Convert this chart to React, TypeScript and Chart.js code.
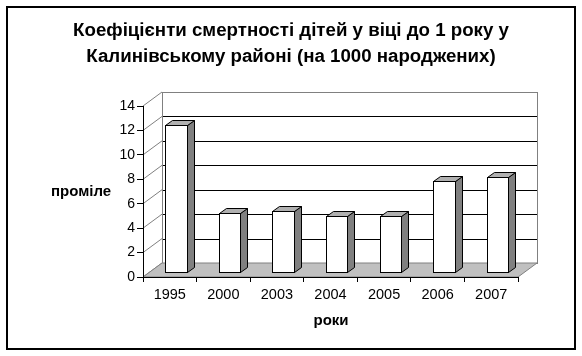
import React, { useEffect, useRef } from "react";
import { Chart, registerables } from "chart.js";

Chart.register(...registerables);

const titleLines = [
  "Коефіцієнти смертності дітей у віці до 1 року у",
  "Калинівському районі (на 1000 народжених)",
];
const yAxisTitle = "проміле";
const xAxisTitle = "роки";
const years = ["1995", "2000", "2003", "2004", "2005", "2006", "2007"];
const rates = [12.1, 4.9, 5.0, 4.6, 4.6, 7.5, 7.8];
const yMin = 0;
const yMax = 14;
const yStep = 2;

const FONT = "'Liberation Sans', Arial, sans-serif";
const DX = 19;
const DY = -14;
const FA = 0.33;
const FB = 0.7;

const px = (v: number) => Math.round(v) + 0.5;

const threeD = {
  id: "threeD",
  beforeDraw(chart: any) {
    const { ctx, chartArea } = chart;
    const { left, right, top, bottom } = chartArea;
    const y = chart.scales.y;
    ctx.save();
    ctx.fillStyle = "#ffffff";
    ctx.fillRect(0, 0, chart.width, chart.height);
    ctx.fillStyle = "#ffffff";
    ctx.fillRect(left + DX, top + DY, right - left, bottom - top);
    ctx.lineWidth = 1;
    ctx.strokeStyle = "#000000";
    for (let v = yMin + yStep; v < yMax; v += yStep) {
      const yy = px(y.getPixelForValue(v) + DY);
      ctx.beginPath();
      ctx.moveTo(px(left + DX), yy);
      ctx.lineTo(px(right + DX), yy);
      ctx.stroke();
    }
    ctx.strokeStyle = "#808080";
    ctx.strokeRect(px(left + DX), px(top + DY), right - left, bottom - top);
    for (let v = yMin; v <= yMax; v += yStep) {
      const yy = y.getPixelForValue(v);
      ctx.beginPath();
      ctx.moveTo(left, yy);
      ctx.lineTo(left + DX, yy + DY);
      ctx.stroke();
    }
    ctx.beginPath();
    ctx.moveTo(left, bottom);
    ctx.lineTo(right, bottom);
    ctx.lineTo(right + DX, bottom + DY);
    ctx.lineTo(left + DX, bottom + DY);
    ctx.closePath();
    ctx.fillStyle = "#c0c0c0";
    ctx.fill();
    ctx.strokeStyle = "#808080";
    ctx.stroke();
    ctx.restore();
  },
  afterDatasetsDraw(chart: any) {
    const { ctx } = chart;
    const meta = chart.getDatasetMeta(0);
    ctx.save();
    ctx.lineWidth = 1;
    ctx.strokeStyle = "#000000";
    ctx.lineJoin = "miter";
    meta.data.forEach((bar: any) => {
      const { x, y, base, width } = bar.getProps(["x", "y", "base", "width"], true);
      const fx = DX * FA, fy = DY * FA;
      const bx = DX * FB, by = DY * FB;
      const l = Math.round(x - width / 2 + fx) + 0.5;
      const r = Math.round(x + width / 2 + fx) + 0.5;
      const t = Math.round(y + fy) + 0.5;
      const b = Math.round(base + fy) + 0.5;
      const ox = Math.round(bx - fx);
      const oy = Math.round(by - fy);
      ctx.beginPath();
      ctx.moveTo(r, t);
      ctx.lineTo(r + ox, t + oy);
      ctx.lineTo(r + ox, b + oy);
      ctx.lineTo(r, b);
      ctx.closePath();
      ctx.fillStyle = "#808080";
      ctx.fill();
      ctx.stroke();
      ctx.beginPath();
      ctx.moveTo(l, t);
      ctx.lineTo(l + ox, t + oy);
      ctx.lineTo(r + ox, t + oy);
      ctx.lineTo(r, t);
      ctx.closePath();
      ctx.fillStyle = "#b0b0b0";
      ctx.fill();
      ctx.stroke();
      ctx.fillStyle = "#ffffff";
      ctx.fillRect(l, t, r - l, b - t);
      ctx.strokeRect(l, t, r - l, b - t);
    });
    ctx.restore();
  },
  afterDraw(chart: any) {
    const { ctx } = chart;
    ctx.save();
    ctx.fillStyle = "#000000";
    ctx.textAlign = "center";
    ctx.textBaseline = "middle";
    ctx.font = `bold 18.7px ${FONT}`;
    ctx.fillText(titleLines[0], 291, 31);
    ctx.fillText(titleLines[1], 291, 57);
    ctx.font = `bold 15px ${FONT}`;
    ctx.fillText(yAxisTitle, 81, 192);
    ctx.fillText(xAxisTitle, 331, 321);
    ctx.lineWidth = 2;
    ctx.strokeStyle = "#000000";
    ctx.strokeRect(7, 7, 568, 342);
    ctx.restore();
  },
};

export default function App() {
  const ref = useRef<HTMLCanvasElement | null>(null);
  useEffect(() => {
    if (!ref.current) return;
    const chart = new Chart(ref.current, {
      type: "bar",
      data: {
        labels: years,
        datasets: [
          {
            data: rates,
            backgroundColor: "rgba(0,0,0,0)",
            borderWidth: 0,
            barPercentage: 0.8,
            categoryPercentage: 0.5,
          },
        ],
      },
      options: {
        responsive: false,
        animation: false,
        events: [],
        layout: { padding: { top: 106, right: 64, left: 0, bottom: 0 } },
        plugins: {
          legend: { display: false },
          tooltip: { enabled: false },
          title: { display: false },
        },
        scales: {
          x: {
            grid: {
              offset: true,
              drawOnChartArea: false,
              drawTicks: true,
              tickLength: 5,
              color: "#000000",
            },
            border: { display: true, color: "#000000" },
            ticks: {
              color: "#000000",
              font: { family: FONT, size: 14.5 },
              padding: 4,
              maxRotation: 0,
            },
            afterFit: (s: any) => {
              s.height = 79;
            },
          },
          y: {
            min: yMin,
            max: yMax,
            ticks: {
              stepSize: yStep,
              color: "#000000",
              font: { family: FONT, size: 14 },
              padding: 2,
            },
            grid: {
              drawOnChartArea: false,
              drawTicks: true,
              tickLength: 6,
              color: "#000000",
            },
            border: { display: true, color: "#000000" },
            afterFit: (s: any) => {
              s.width = 143;
            },
          },
        },
      },
      plugins: [threeD],
    });
    return () => chart.destroy();
  }, []);
  return (
    <div style={{ position: "fixed", left: 0, top: 0, width: 582, height: 356, background: "#fff" }}>
      <canvas ref={ref} width={582} height={356} style={{ display: "block" }} />
    </div>
  );
}
